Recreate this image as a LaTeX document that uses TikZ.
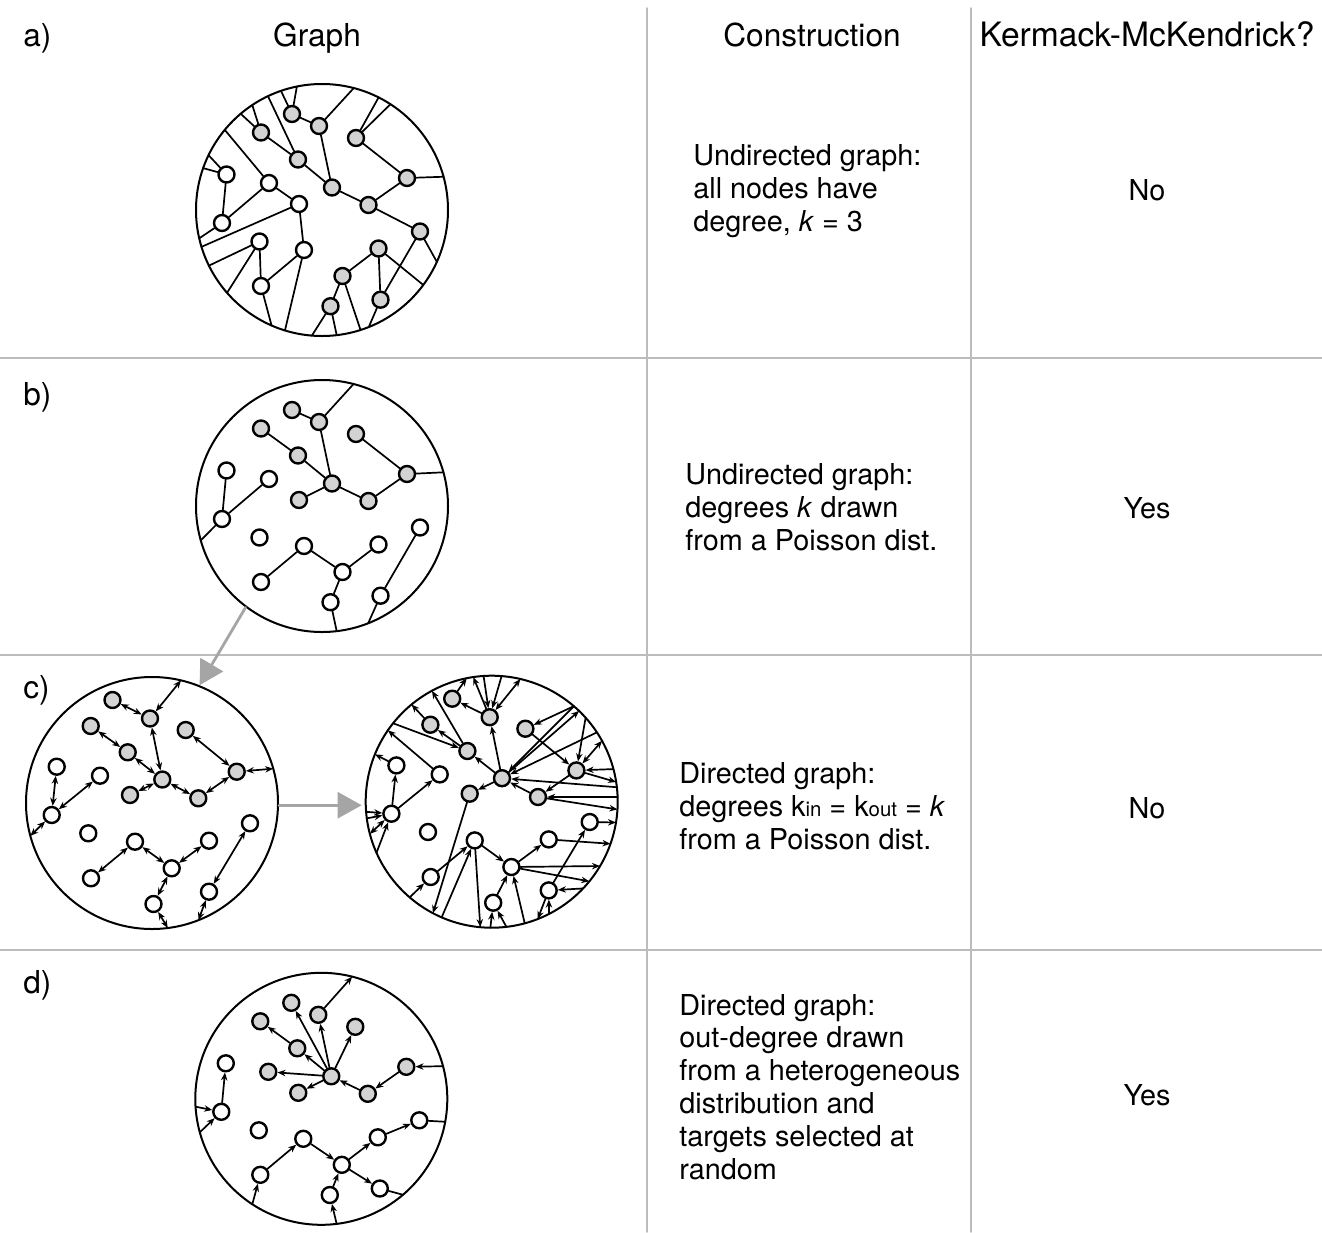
\documentclass[tikz,border=0pt]{standalone}
\usepackage{fontspec}
\setmainfont{TeX Gyre Heros}
\usetikzlibrary{arrows.meta}
\definecolor{gr}{RGB}{211,211,211}
\definecolor{wh}{RGB}{255,255,255}
\definecolor{rulegray}{RGB}{188,188,188}
\definecolor{flowgray}{RGB}{165,165,165}
\newcommand{\bodyfont}{\fontsize{14.4}{16.4}\selectfont}
\newcommand{\headfont}{\fontsize{15.8}{18}\selectfont}
\newcommand{\subtxt}[1]{{\fontsize{10.2}{10.2}\selectfont #1}}
% node offsets from the disc centre: index/dx/dy/fill in a/fill in b/fill in d
\newcommand{\layoutB}{1/-30/-96/gr/gr/gr, 2/-3/-84/gr/gr/gr, 3/-61/-77.5/gr/gr/gr,
 4/34/-72/gr/gr/gr, 5/-24/-50.5/gr/gr/gr, 6/10/-22.5/gr/gr/gr, 7/85/-32/gr/gr/gr,
 8/-23/-6/wh/gr/gr, 9/46.5/-5/gr/gr/gr, 10/-95.5/-35.5/wh/wh/wh, 11/-53/-27/wh/wh/gr,
 12/-100/13/wh/wh/wh, 13/-62.5/31.5/wh/wh/wh, 14/-18/40/wh/wh/wh, 15/56.5/38.5/gr/wh/wh,
 16/98/21.5/gr/wh/wh, 17/-61/76/wh/wh/wh, 18/20.5/66/gr/wh/wh, 19/8.5/96.2/gr/wh/wh,
 20/58.5/89.7/gr/wh/wh}
\newcommand{\layoutC}{1/-39.5/-103, 2/-2/-84.5, 3/-61.3/-77, 4/33.7/-73, 5/-24.3/-50.7,
 6/10.3/-23.5, 7/84.7/-31.3, 8/-22/-8, 9/46.3/-4.7, 10/-95.3/-36.3, 11/-52/-27.3,
 12/-100.3/12, 13/-63.7/30.3, 14/-17/38.7, 15/57/37.7, 16/98/20.3, 17/-61/75.3,
 18/19.7/65.3, 19/1.5/101, 20/57/88.7}
\newcommand{\treeedges}{1/2, 2/6, 3/5, 5/6, 6/8, 6/9, 9/7, 4/7, 10/12, 11/12, 14/17, 14/18, 18/15, 18/19, 16/20}

\begin{document}
\begin{tikzpicture}[x=0.5pt,y=-0.5pt,line join=round,line cap=round,
	>={Stealth[length=4pt,width=3.2pt]},
	vtx/.style={circle,draw,line width=1.2pt,minimum size=8pt,inner sep=0pt},
	disc/.style={circle,draw,line width=1pt,minimum size=126pt,inner sep=0pt},
	edge/.style={line width=0.85pt},
	flow/.style={draw=flowgray,line width=1.4pt,-{Triangle[length=12pt,width=13pt]}},
	rule/.style={draw=rulegray,line width=0.75pt},
	head/.style={font=\headfont,anchor=base},
	rowlabel/.style={font=\headfont,anchor=base west,inner sep=0pt},
	body/.style={font=\bodyfont,anchor=base west,align=left,inner sep=0pt},
	answer/.style={font=\bodyfont,anchor=base}]
	\useasboundingbox (0,0) rectangle (1322,1232);
	% table rules
	\draw[rule] (647,8)--(647,1232) (971,8)--(971,1232);
	\draw[rule] (0,358)--(1322,358) (0,655)--(1322,655) (0,950)--(1322,950);
	% headings and row labels
	\node[head] (hgraph) at (317,46) {Graph};
	\node[head] (hcons) at (812,46) {Construction};
	\node[head,font=\fontsize{16.8}{18}\selectfont] (hkm) at (1147,46) {Kermack-McKendrick?};
	\node[rowlabel] (la) at (23,46) {a)};
	\node[rowlabel] (lb) at (23,405) {b)};
	\node[rowlabel] (lc) at (23,698) {c)};
	\node[rowlabel] (ld) at (23,993) {d)};
	% a) every node of degree 3
	\begin{scope}[shift={(322,210)}]
		\node[disc] (ga) at (0,0) {};
		\foreach \i/\px/\py/\fa/\fb/\fd in \layoutB {\node[vtx,fill=\fa] (a\i) at (\px,\py) {};}
		\foreach \s/\e in {1/2, 2/6, 3/5, 5/6, 6/9, 9/7, 4/7, 9/16, 10/12, 11/12, 11/8, 8/14, 14/17, 13/17, 15/18, 15/20, 16/20, 18/19}
			\draw[edge] (a\s)--(a\e);
		\foreach \s/\ang [count=\k] in {1/109, 1/101.5, 2/75.4, 3/123.6, 3/130.2, 5/115.4, 4/63.3, 4/57.1, 7/15.3, 8/197, 10/154.2, 10/160.6, 11/140.5, 12/193, 13/206.2, 13/221.1, 17/246.4, 14/252.9, 19/265.4, 19/276.7, 18/287.8, 20/291.8, 15/323.5, 16/335.7}
			{\coordinate (ab\k) at ({126*cos(\ang)},{-126*sin(\ang)});
			\draw[edge] (a\s)--(ab\k);}
	\end{scope}
	% b) Poisson degrees
	\begin{scope}[shift={(322,506)}]
		\node[disc] (gb) at (0,0) {};
		\foreach \i/\px/\py/\fa/\fb/\fd in \layoutB {\node[vtx,fill=\fb] (b\i) at (\px,\py) {};}
		\foreach \s/\e in \treeedges \draw[edge] (b\s)--(b\e);
		\foreach \s/\ang [count=\k] in {2/75.5, 7/15.5, 12/195.8, 19/276.7, 20/291.5}
			{\coordinate (bb\k) at ({126*cos(\ang)},{-126*sin(\ang)});
			\draw[edge] (b\s)--(bb\k);}
	\end{scope}
	% c) left: every edge both ways
	\begin{scope}[shift={(152,803)}]
		\node[disc] (gcl) at (0,0) {};
		\foreach \i/\px/\py in \layoutC {\node[vtx,fill=\ifnum\i<10 gr\else wh\fi] (l\i) at (\px,\py) {};}
		\foreach \s/\e in \treeedges \draw[edge,<->] (l\s)--(l\e);
		\foreach \s/\ang [count=\k] in {2/76.7, 7/15.8, 12/195.1, 19/277.2, 20/291.6}
			{\coordinate (lb\k) at ({126*cos(\ang)},{-126*sin(\ang)});
			\draw[edge,<->] (l\s)--(lb\k);}
	\end{scope}
	% c) right: in- and out-stubs
	\begin{scope}[shift={(491.7,801.7)}]
		\node[disc] (gcr) at (0,0) {};
		\foreach \i/\px/\py in \layoutC {\node[vtx,fill=\ifnum\i<10 gr\else wh\fi] (r\i) at (\px,\py) {};}
		\foreach \s/\e in {2/1, 5/3, 6/5, 6/2, 4/7, 9/6, 6/8, 7/9, 12/10, 12/11, 17/14, 14/18, 18/15, 19/18, 20/16}
			\draw[edge,->] (r\s)--(r\e);
		\foreach \s/\ang [count=\k] in {1/101.5, 2/98.4, 3/129.5, 5/118.3, 11/145.5, 10/157.9, 6/46.1, 7/9, 9/356.5, 16/350.5, 15/340.5, 18/329.3, 18/320.8, 20/291.4, 14/264.8, 8/242.2}
			{\coordinate (ro\k) at ({126*cos(\ang)},{-126*sin(\ang)});
			\draw[edge,->] (r\s)--(ro\k);}
		\foreach \s/\ang [count=\k] in {2/93.7, 2/85.5, 5/141.5, 12/184.6, 12/187.6, 12/203.9, 4/49.3, 6/49.3, 7/41.8, 6/33.4, 7/15, 6/6.6, 9/2.1, 20/316.5, 20/297.1, 18/285.2, 19/276.7, 19/269.4, 14/246.6, 17/229.4}
			{\coordinate (ri\k) at ({126*cos(\ang)},{-126*sin(\ang)});
			\draw[edge,->] (ri\k)--(r\s);}
		\foreach \s/\ang [count=\k] in {2/76.8, 12/194.8, 7/28.9}
			{\coordinate (rw\k) at ({126*cos(\ang)},{-126*sin(\ang)});
			\draw[edge,<->] (r\s)--(rw\k);}
	\end{scope}
	% d) heterogeneous out-degree
	\begin{scope}[shift={(321.3,1098.8)}]
		\node[disc] (gd) at (0,0) {};
		\foreach \i/\px/\py/\fa/\fb/\fd in \layoutB {\node[vtx,fill=\fd] (d\i) at (\px,\py) {};}
		\foreach \s/\e in {6/1, 6/2, 6/4, 6/5, 5/3, 6/11, 6/8, 9/6, 7/9, 12/10, 17/14, 14/18, 19/18, 18/15, 18/20, 15/16}
			\draw[edge,->] (d\s)--(d\e);
		\foreach \s/\ang [count=\k] in {2/75.8}
			{\coordinate (do\k) at ({126*cos(\ang)},{-126*sin(\ang)});
			\draw[edge,->] (d\s)--(do\k);}
		\foreach \s/\ang [count=\k] in {7/15, 12/183.6, 12/195.4, 17/236.8, 19/277}
			{\coordinate (di\k) at ({126*cos(\ang)},{-126*sin(\ang)});
			\draw[edge,->] (di\k)--(d\s);}
		\foreach \s/\ang [count=\k] in {16/349.5, 20/310.4}
			{\coordinate (dp\k) at ({126*cos(\ang)},{-126*sin(\ang)});
			\draw[edge] (d\s)--(dp\k);}
	\end{scope}
	% grey arrows between the discs
	\draw[flow] (gb.233)--(gcl.68);
	\draw[flow,shorten >=1.5pt] (gcl.-1)--(gcl.-1 -| gcr.west);
	% construction column (base = last line)
	\node[body] (ca) at (693,231) {Undirected graph:\\all nodes have\\degree, \textit{k} = 3};
	\node[body] (cb) at (685,550) {Undirected graph:\\degrees \textit{k} drawn\\from a Poisson dist.};
	\node[body] (cc) at (679,849) {Directed graph:\\degrees k\subtxt{in} = k\subtxt{out} = \textit{k}\\from a Poisson dist.};
	\node[body] (cd) at (679,1179) {Directed graph:\\out-degree drawn\\from a heterogeneous\\distribution and\\targets selected at\\random};
	% answer column
	\node[answer] (ka) at (1147,200) {No};
	\node[answer] (kb) at (1147,518) {Yes};
	\node[answer] (kc) at (1147,818) {No};
	\node[answer] (kd) at (1147,1105) {Yes};
\end{tikzpicture}
\end{document}
